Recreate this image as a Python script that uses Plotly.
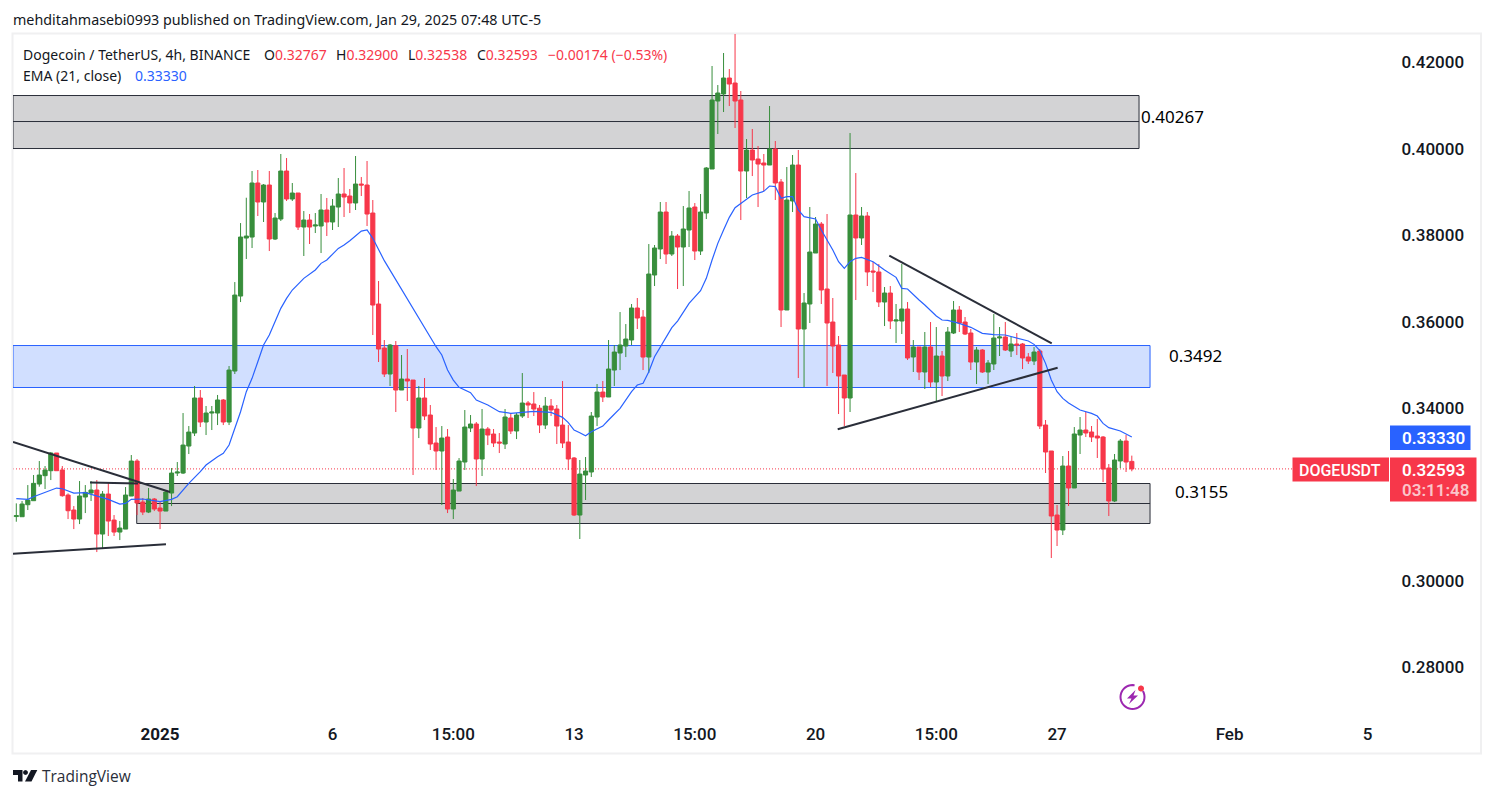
import math
import pandas as pd
import plotly.graph_objects as go

FIRST_CANDLE = "2024-12-27 23:00"

opens = [
 .31490,.31486,.31764,.31857,.32243,.32436,.32551,.32960,.32567,.31988,
 .31641,.31432,.31942,.32034,.32104,.31085,.32011,.31409,.31131,.31200,
 .31965,.32775,.31826,.31594,.31896,.31687,.31617,.32034,.32497,.32497,
 .33122,.33423,.34234,.33678,.33886,.33886,.34188,.33678,.34858,.36594,
 .37937,.37960,.39211,.38771,.39164,.37914,.38377,.39488,.38840,.38979,
 .38192,.38354,.38215,.38215,.38586,.38308,.38655,.38956,.38910,.38748,
 .39187,.39164,.38516,.36410,.35391,.34789,.35445,.34419,.34673,.34650,
 .33539,.34234,.33840,.33192,.33007,.33331,.31664,.32080,.32752,.33539,
 .33632,.32822,.33516,.33400,.33215,.33169,.33771,.33470,.33817,.34118,
 .34095,.33998,.33608,.34049,.33979,.33608,.33215,.32845,.31525,.32451,
 .32521,.33794,.34372,.34257,.34881,.35275,.35437,.35576,.36317,.36108,
 .35182,.37081,.37683,.38539,.37567,.37984,.37729,.38123,.38655,.37636,
 .38516,.39535,.41109,.41271,.41641,.41525,.41132,.39488,.39974,.39766,
 .39674,.39627,.39998,.39234,.36271,.38794,.39627,.35831,.36410,.37590,
 .38261,.36757,.35993,.35460,.34766,.34234,.38470,.37938,.38447,.37174,
 .37151,.36456,.36664,.36016,.36016,.36294,.35183,.35414,.34836,.35414,
 .34604,.35206,.34743,.35738,.36271,.35993,.35738,.35067,.35345,.34836,
 .35021,.35623,.35646,.35322,.35484,.35484,.35183,.35090,.35322,.33609,
 .33007,.31525,.31178,.32660,.32151,.33377,.33493,.33447,.33354,.33331,
 .32613,.31850,.32776,.33238,.32767]
highs = [
 .31795,.31849,.32219,.32451,.32775,.32659,.32983,.32960,.32659,.32026,
 .31733,.32312,.32219,.32312,.32335,.32080,.32289,.31525,.31386,.32173,
 .32914,.32821,.31919,.32150,.31919,.31826,.32104,.32613,.32752,.33886,
 .33585,.34512,.34419,.34049,.34049,.34304,.34211,.34974,.36918,.38284,
 .38870,.39488,.39512,.39187,.39488,.38516,.39882,.39789,.39211,.38979,
 .38562,.38493,.38516,.38956,.38864,.38840,.39326,.39558,.39072,.39836,
 .39349,.39720,.38817,.36942,.35576,.35484,.35553,.35229,.35368,.34650,
 .34512,.34696,.34072,.33562,.33585,.33516,.32359,.32844,.33956,.33840,
 .33678,.33979,.33562,.33516,.33423,.33979,.33886,.33886,.34812,.34164,
 .34372,.34072,.34257,.34211,.34072,.34627,.33608,.32868,.32799,.32868,
 .33910,.34558,.34627,.35576,.35460,.36224,.35946,.36410,.36549,.36270,
 .37798,.37775,.38771,.38771,.38099,.38030,.38678,.39025,.38747,.38956,
 .39580,.41919,.41479,.42220,.41849,.42660,.41340,.40229,.40461,.40067,
 .39882,.40993,.40183,.39303,.39581,.39859,.39975,.36664,.38655,.38423,
 .38308,.38493,.36549,.35669,.34766,.40368,.39442,.38655,.38539,.37382,
 .37336,.36803,.36826,.36410,.37336,.36456,.35576,.35414,.35762,.35993,
 .35877,.35322,.35877,.36479,.36363,.36109,.35831,.35414,.35368,.35113,
 .36178,.35877,.35993,.35646,.35738,.35507,.35275,.35414,.35368,.33725,
 .33007,.31757,.32891,.33007,.33562,.33794,.33910,.33586,.33748,.33354,
 .32706,.32938,.33285,.33377,.32900]
lows = [
 .31370,.31486,.31641,.31857,.32181,.32127,.32335,.32551,.31950,.31432,
 .31200,.31316,.31571,.31849,.30668,.30738,.31039,.31039,.30946,.31200,
 .31965,.31525,.31525,.31571,.31617,.31200,.31617,.31733,.32428,.32474,
 .32937,.33354,.33562,.33377,.33493,.33608,.33608,.33608,.34789,.36455,
 .37452,.37706,.38447,.38308,.37636,.37891,.38331,.38794,.38794,.38123,
 .37521,.37799,.38053,.37590,.37984,.38123,.38192,.38424,.38516,.38586,
 .38910,.38215,.35692,.35067,.34720,.34512,.33910,.34419,.34164,.32451,
 .33307,.33724,.33030,.32567,.31757,.31571,.31432,.32080,.32567,.33446,
 .32196,.32428,.33145,.33099,.32960,.33053,.33400,.33284,.33771,.33771,
 .33817,.33423,.33516,.33817,.33169,.33076,.32567,.31502,.30970,.31873,
 .32405,.33585,.34141,.34257,.34512,.34881,.35182,.35460,.35831,.34881,
 .34812,.36826,.37451,.37336,.37521,.36757,.36826,.37729,.37428,.37544,
 .38377,.39535,.40345,.40854,.40993,.40484,.38354,.38863,.39372,.38655,
 .39025,.39627,.38817,.35877,.36271,.38539,.34697,.34488,.35970,.37590,
 .36410,.34512,.34813,.33863,.33586,.33910,.36502,.37776,.36826,.36687,
 .36340,.35900,.35831,.35507,.35715,.35113,.34836,.34650,.34442,.34489,
 .34141,.34280,.34627,.35715,.35762,.35692,.34882,.34558,.34813,.34558,
 .34882,.35206,.35322,.35183,.35229,.34905,.35021,.34997,.33516,.32498,
 .30530,.30808,.31062,.31734,.32151,.32938,.33331,.33215,.32845,.32289,
 .31502,.31826,.32613,.32521,.32538]
closes = [
 .31510,.31780,.31872,.32258,.32451,.32567,.32960,.32551,.31972,.31625,
 .31432,.31965,.32050,.32104,.31085,.32011,.31386,.31131,.31224,.31988,
 .32775,.31803,.31594,.31896,.31664,.31617,.32057,.32497,.32520,.33145,
 .33446,.34234,.33678,.33886,.33909,.34188,.33678,.34881,.36617,.37960,
 .37983,.39211,.38771,.39164,.37914,.38400,.39488,.38840,.38979,.38192,
 .38354,.38192,.38238,.38586,.38308,.38678,.38956,.38887,.38748,.39187,
 .39164,.38493,.36386,.35368,.34789,.35460,.34419,.34673,.34627,.33539,
 .34234,.33817,.33169,.33007,.33307,.31664,.32104,.32775,.33562,.33632,
 .32822,.33516,.33377,.33192,.33192,.33794,.33470,.33840,.34118,.34072,
 .33979,.33608,.34049,.33956,.33585,.33192,.32822,.31525,.32474,.32544,
 .33817,.34372,.34257,.34905,.35298,.35460,.35599,.36317,.36085,.35182,
 .37104,.37706,.38539,.37567,.37984,.37729,.38146,.38632,.37636,.38539,
 .39558,.41132,.41294,.41641,.41502,.41109,.39488,.39974,.39743,.39650,
 .39627,.39998,.39211,.36271,.38817,.39627,.35831,.36433,.37613,.38261,
 .36734,.35970,.35437,.34743,.34234,.38470,.37938,.38447,.37151,.37151,
 .36456,.36664,.36016,.36039,.36294,.35160,.35414,.34836,.35414,.34604,
 .35206,.34743,.35762,.36271,.35970,.35715,.35067,.35345,.34836,.35044,
 .35623,.35646,.35345,.35484,.35461,.35160,.35090,.35298,.33586,.32984,
 .31502,.31178,.32660,.32151,.33401,.33493,.33424,.33331,.33308,.32590,
 .31850,.32799,.33238,.32752,.32593]

ema_index = [
 0,2,3,5,7,8,10,12,14,16,18,19,20,22,25,27,28,29,30,32,33,35,36,37,38,39,40,41,42,43,44,45,46,47,48,50,
 52,53,54,56,57,58,60,61,62,64,66,68,69,71,73,74,75,76,77,79,80,82,84,86,88,90,93,95,96,97,98,99,100,
 102,103,105,107,108,109,110,111,112,113,114,115,117,119,120,121,122,123,124,125,126,128,130,131,132,133,
 134,135,136,137,139,140,142,143,144,145,146,147,149,151,153,154,155,156,157,158,159,160,161,162,164,165,
 166,168,170,172,174,176,177,178,179,180,181,182,183,185,187,188,189,190,192,194]
ema_values = [
 .31904,.31888,.31950,.32042,.32150,.32134,.32034,.32042,.31973,.31888,.31780,.31795,.31888,.31896,.31834,
 .31888,.31950,.32104,.32258,.32529,.32683,.32876,.32953,.33145,.33531,.33917,.34380,.34689,.35075,.35460,
 .35692,.36001,.36309,.36541,.36734,.37004,.37197,.37351,.37428,.37698,.37775,.37876,.38099,.38123,.37930,
 .37413,.36965,.36541,.36294,.35869,.35422,.35229,.34882,.34650,.34481,.34357,.34187,.34072,.33917,.33879,
 .33902,.33925,.33902,.33786,.33663,.33493,.33431,.33362,.33454,.33585,.33725,.33995,.34380,.34535,.34573,
 .34843,.35190,.35422,.35653,.35862,.36016,.36425,.36718,.37004,.37428,.37814,.38123,.38416,.38640,.38740,
 .38933,.39018,.39141,.39126,.38856,.38894,.38894,.38586,.38431,.38377,.38123,.37660,.37390,.37235,.37390,
 .37467,.37490,.37390,.37197,.37027,.36772,.36757,.36618,.36502,.36387,.36248,.36132,.36039,.36031,.35962,
 .35924,.35870,.35731,.35700,.35692,.35615,.35553,.35476,.35330,.35036,.34651,.34381,.34226,.34118,.33956,
 .33879,.33817,.33647,.33547,.33470,.33330]

y_ticks = [0.42, 0.40, 0.38, 0.36, 0.34, 0.30, 0.28]
y_tick_labels = ["0.42000", "0.40000", "0.38000", "0.36000", "0.34000", "0.30000", "0.28000"]
x_ticks = ["2025-01-01 03:00", "2025-01-06 03:00", "2025-01-09 15:00", "2025-01-13 03:00", "2025-01-16 15:00",
           "2025-01-20 03:00", "2025-01-23 15:00", "2025-01-27 03:00", "2025-02-01 03:00", "2025-02-05 03:00"]
x_tick_labels = ["<b>2025</b>", "6", "15:00", "13", "15:00", "20", "15:00", "27", "Feb", "5"]

W, H = 1494, 798
L, R, T, B = 13, 1389, 34, 717
GREEN, RED, BLUE, INK = "#388E3C", "#F7374A", "#2962FF", "#131722"
UI = "Noto Sans"

def px(x, y):
    return (x - L) / (R - L), (B - y) / (B - T)

def rpath(points, close=True):
    out = []
    for k, (x, y) in enumerate(points):
        a, b = px(x, y)
        out.append(("M" if k == 0 else "L") + f"{a:.5f},{b:.5f}")
    return " ".join(out) + (" Z" if close else "")

times = pd.date_range(FIRST_CANDLE, periods=len(opens), freq="4h")
x_left, x_right = "2024-12-27 20:42", "2025-02-05 17:55"

fig = go.Figure()
fig.add_trace(go.Candlestick(
    x=times, open=opens, high=highs, low=lows, close=closes,
    increasing=dict(line=dict(color=GREEN, width=1), fillcolor=GREEN),
    decreasing=dict(line=dict(color=RED, width=1), fillcolor=RED),
    whiskerwidth=0, showlegend=False, hoverinfo="skip"))
fig.add_trace(go.Scatter(
    x=[times[i] for i in ema_index], y=ema_values, mode="lines",
    line=dict(color=BLUE, width=1.2), showlegend=False, hoverinfo="skip"))

shapes = []
def box(x0, x1, y0, y1, fill, line, mid=None):
    shapes.append(dict(type="rect", x0=x0, x1=x1, y0=y0, y1=y1, fillcolor=fill,
                       line=dict(color=line, width=1), layer="below"))
    if mid is not None:
        shapes.append(dict(type="line", x0=x0, x1=x1, y0=mid, y1=mid,
                           line=dict(color=line, width=1), layer="below"))
box(x_left, "2025-01-29 12:02", 0.40009, 0.41236, "#D3D3D5", "#2A2E39", 0.40634)
box(x_left, "2025-01-29 19:41", 0.34477, 0.35449, "#D1DFFF", BLUE)
box("2024-12-31 10:46", "2025-01-29 19:41", 0.31329, 0.32255, "#D3D3D5", "#2A2E39", 0.31792)

def trend(x0, y0, x1, y1, w=2):
    shapes.append(dict(type="line", x0=x0, y0=y0, x1=x1, y1=y1,
                       line=dict(color="#2A2E39", width=w), layer="above"))
trend(x_left, .33215, "2025-01-01 09:55", .32058)
trend(x_left, .30630, "2025-01-01 07:07", .30847)
trend("2024-12-30 02:17", .32278, "2024-12-31 11:38", .32255)
trend("2025-01-22 06:18", .37528, "2025-01-26 23:18", .35500)
trend("2025-01-20 18:24", .33509, "2025-01-27 03:24", .34935)

# last-price dotted line
shapes.append(dict(type="line", xref="paper", x0=0, x1=1, y0=closes[-1], y1=closes[-1],
                   line=dict(color=RED, width=1, dash="1px,2px"), layer="below"))

def pbox(x0, y0, x1, y1, fill, line=None, lw=0, layer="above"):
    a0, b0 = px(x0, y0); a1, b1 = px(x1, y1)
    shapes.append(dict(type="rect", xref="paper", yref="paper", x0=a0, y0=b0, x1=a1, y1=b1,
                       fillcolor=fill, line=dict(color=line or fill, width=lw), layer=layer))
# frame of the chart
pbox(12.5, 33.5, 1481, 753.5, "rgba(0,0,0,0)", "#F0F0F1", 2, "below")
# price tags
pbox(1390, 425.5, 1470.5, 450, BLUE)
pbox(1390, 457.5, 1476.5, 501.5, RED)
pbox(1292.5, 457.5, 1389, 481.5, RED)

# TradingView logo
for poly in ([(13, 770), (22.5, 770), (22.5, 781.5), (18, 781.5), (18, 775), (13, 775)],
             [(31, 770), (37.3, 770), (31.5, 781.5), (25, 781.5)]):
    shapes.append(dict(type="path", xref="paper", yref="paper", path=rpath(poly),
                       fillcolor=INK, line=dict(width=0), layer="above"))
def circle(cx, cy, r, fill=None, line=None, lw=0, a0=0, a1=360):
    pts = [(cx + r * math.cos(math.radians(a)), cy + r * math.sin(math.radians(a)))
           for a in range(a0, a1 + 1, 10)]
    shapes.append(dict(type="path", xref="paper", yref="paper", path=rpath(pts, close=fill is not None),
                       fillcolor=fill if fill else "rgba(0,0,0,0)",
                       line=dict(color=line or "rgba(0,0,0,0)", width=lw), layer="above"))
circle(25.5, 772.5, 2.4, fill=INK)
# bolt badge
circle(1132.5, 697, 12, line="#9C27B0", lw=2, a0=-30, a1=285)
shapes.append(dict(type="path", xref="paper", yref="paper",
                   path=rpath([(1135.5, 690), (1127, 698.5), (1131.5, 698.5), (1129, 704), (1138, 695.5), (1133.5, 695.5)]),
                   fillcolor="#9C27B0", line=dict(width=0), layer="above"))
circle(1141, 688.5, 3, fill=RED)

def note(x, y, text, size=14, color=INK, anchor="left", family=UI, weight=None):
    a, b = px(x, y)
    font = dict(size=size, color=color, family=family)
    if weight:
        font["weight"] = weight
    return dict(xref="paper", yref="paper", x=a, y=b, text=text, showarrow=False,
                xanchor=anchor, yanchor="middle", font=font, align="left")

def red(t):
    return f'<span style="color:{RED}">{t}</span>'

annotations = [
    note(11, 19.5, "mehditahmasebi0993 published on TradingView.com, Jan 29, 2025 07:48 UTC-5", 14.3),
    note(21, 54, "Dogecoin / TetherUS, 4h, BINANCE"),
    note(262, 54, "O" + red("0.32767")),
    note(334, 54, "H" + red("0.32900")),
    note(406, 54, "L" + red("0.32538")),
    note(475, 54, "C" + red("0.32593")),
    note(546, 54, red("\u22120.00174 (\u22120.53%)")),
    note(21, 75, "EMA (21, close)"),
    note(133, 75, f'<span style="color:{BLUE}">0.33330</span>'),
    note(1139, 117, "0.40267", 17, "#000000"),
    note(1167, 356, "0.3492", 17, "#000000"),
    note(1173, 491.5, "0.3155", 17, "#000000"),
    note(1433, 438, "0.33330", 17, "#FFFFFF", "center", "Roboto", 600),
    note(1433, 470, "0.32593", 17, "#FFFFFF", "center", "Roboto", 600),
    note(1436, 490, "03:11:48", 17, "#FBC4C9", "center", "Roboto", 600),
    note(1340, 470, "DOGEUSDT", 16, "#FFFFFF", "center", "Roboto", 500),
    note(40, 776, "TradingView", 15.5, "#2A2E39", "left", "Open Sans"),
]

fig.update_layout(
    width=W, height=H, autosize=False, boxgap=0.1, boxgroupgap=0.2,
    paper_bgcolor="#FFFFFF", plot_bgcolor="#FFFFFF",
    margin=dict(l=L, r=W - R, t=T, b=H - B, pad=0),
    shapes=shapes, annotations=annotations, showlegend=False,
    font=dict(family="Roboto", color=INK),
    xaxis=dict(type="date", range=[x_left, x_right], rangeslider=dict(visible=False),
               tickmode="array", tickvals=x_ticks, ticktext=x_tick_labels,
               showgrid=False, zeroline=False, showline=False, ticks="outside", ticklen=2,
               tickcolor="rgba(0,0,0,0)", tickfont=dict(family="Roboto", size=17, color=INK, weight=500)),
    yaxis=dict(side="right", range=[0.26850, 0.42660], tickmode="array", tickvals=y_ticks,
               ticktext=y_tick_labels, showgrid=False, zeroline=False, showline=False,
               ticks="outside", ticklen=8, tickcolor="rgba(0,0,0,0)",
               tickfont=dict(family="Roboto", size=17, color=INK, weight=500)),
)
fig.write_html("out.html", config=dict(displayModeBar=False),
               post_script="document.body.style.margin='0';")
